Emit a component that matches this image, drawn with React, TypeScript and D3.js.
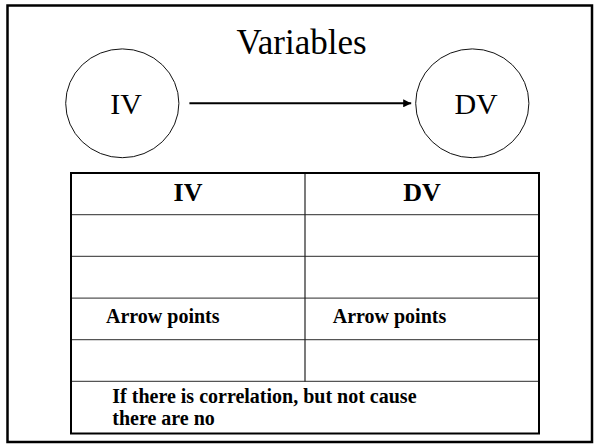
import React, { useEffect, useRef } from 'react';
import * as d3 from 'd3';

const W = 594;
const H = 445;

// slide content
const title = 'Variables';
const nodes = ['IV', 'DV'];
const columns = ['IV', 'DV'];
const bodyRows = [
  ['', ''],
  ['', ''],
  ['Arrow points', 'Arrow points'],
  ['', ''],
];
const footerLines = ['If there is correlation, but not cause', 'there are no'];
// relative heights: header, body rows, footer
const rowWeights = [1, 1, 1, 1, 1, 1.25];

const FONT = '"Liberation Serif", "Times New Roman", serif';

export default function App() {
  const ref = useRef<SVGSVGElement>(null);

  useEffect(() => {
    document.body.style.margin = '0';
    const svg = d3.select(ref.current);
    svg.selectAll('*').remove();

    // frame
    svg.append('rect')
      .attr('x', 7.5).attr('y', 5.5)
      .attr('width', 592 - 7.5).attr('height', 442 - 5.5)
      .attr('fill', 'none').attr('stroke', '#000').attr('stroke-width', 2.5);

    svg.append('text')
      .attr('x', 301.5).attr('y', 54.3)
      .attr('text-anchor', 'middle')
      .style('font-family', FONT).style('font-size', '35px')
      .text(title);

    // nodes
    const nx = d3.scalePoint<string>().domain(nodes).range([122.3, 472.3]);
    const ny = 103.3;
    const rx = 56.6, ry = 54.4;

    const g = svg.append('g');
    g.selectAll('ellipse').data(nodes).join('ellipse')
      .attr('cx', d => nx(d)!).attr('cy', ny)
      .attr('rx', rx).attr('ry', ry)
      .attr('fill', 'none').attr('stroke', '#111').attr('stroke-width', 1);
    g.selectAll('text').data(nodes).join('text')
      .attr('x', d => nx(d)! + 3.8).attr('y', ny + 10.7)
      .attr('text-anchor', 'middle')
      .style('font-family', FONT).style('font-size', '30px')
      .text(d => d);

    // arrow
    svg.append('defs').append('marker')
      .attr('id', 'head').attr('viewBox', '0 0 10 10')
      .attr('refX', 10).attr('refY', 5)
      .attr('markerWidth', 4).attr('markerHeight', 4)
      .attr('orient', 'auto')
      .append('path').attr('d', 'M0,0L10,5L0,10z').attr('fill', '#000');
    const x0 = nx(nodes[0])! + rx + 10.5;
    const x1 = nx(nodes[1])! - rx - 4.5;
    svg.append('path')
      .attr('d', d3.line()([[x0, ny], [x1, ny]]))
      .attr('stroke', '#000').attr('stroke-width', 2)
      .attr('marker-end', 'url(#head)');

    // table
    const cx = d3.scaleBand<string>().domain(columns).range([71, 539]);
    const cum = [0, ...d3.cumsum(rowWeights)];
    const ry0 = d3.scaleLinear().domain([0, d3.sum(rowWeights)]).range([173, 433.5]);
    const t = svg.append('g');

    // inner row lines
    t.selectAll('line.row').data(cum.slice(1, -1)).join('line')
      .attr('class', 'row')
      .attr('x1', 71).attr('x2', 539)
      .attr('y1', d => ry0(d)).attr('y2', d => ry0(d))
      .attr('stroke', '#555').attr('stroke-width', 1.2);
    // column divider (not through footer)
    t.append('line')
      .attr('x1', cx(columns[1])!).attr('x2', cx(columns[1])!)
      .attr('y1', ry0(0)).attr('y2', ry0(cum[rowWeights.length - 1]))
      .attr('stroke', '#222').attr('stroke-width', 1.2);
    // outer border
    t.append('rect')
      .attr('x', 71).attr('y', ry0(0))
      .attr('width', 539 - 71).attr('height', ry0(cum[cum.length - 1]) - ry0(0))
      .attr('fill', 'none').attr('stroke', '#000').attr('stroke-width', 2);

    // header
    t.selectAll('text.head').data(columns).join('text')
      .attr('class', 'head')
      .attr('x', d => cx(d)! + cx.bandwidth() / 2)
      .attr('y', ry0(cum[0]) + 27.7)
      .attr('text-anchor', 'middle')
      .style('font-family', FONT).style('font-size', '26px').style('font-weight', 'bold')
      .text(d => d);

    // body cells
    const indent = [35, 27.7];
    bodyRows.forEach((row, ri) => {
      row.forEach((cell, ci) => {
        if (!cell) return;
        t.append('text')
          .attr('x', cx(columns[ci])! + indent[ci])
          .attr('y', ry0(cum[ri + 1]) + 25.3)
          .style('font-family', FONT).style('font-size', '20px').style('font-weight', 'bold')
          .text(cell);
      });
    });

    // footer
    const fy = ry0(cum[rowWeights.length - 1]);
    t.selectAll('text.foot').data(footerLines).join('text')
      .attr('class', 'foot')
      .attr('x', 71 + 41.3)
      .attr('y', (_, i) => fy + 21.3 + i * 22.3)
      .style('font-family', FONT).style('font-size', '20px').style('font-weight', 'bold')
      .text(d => d);
  }, []);

  return <svg ref={ref} width={W} height={H} style={{ display: 'block', background: '#fff' }} />;
}
